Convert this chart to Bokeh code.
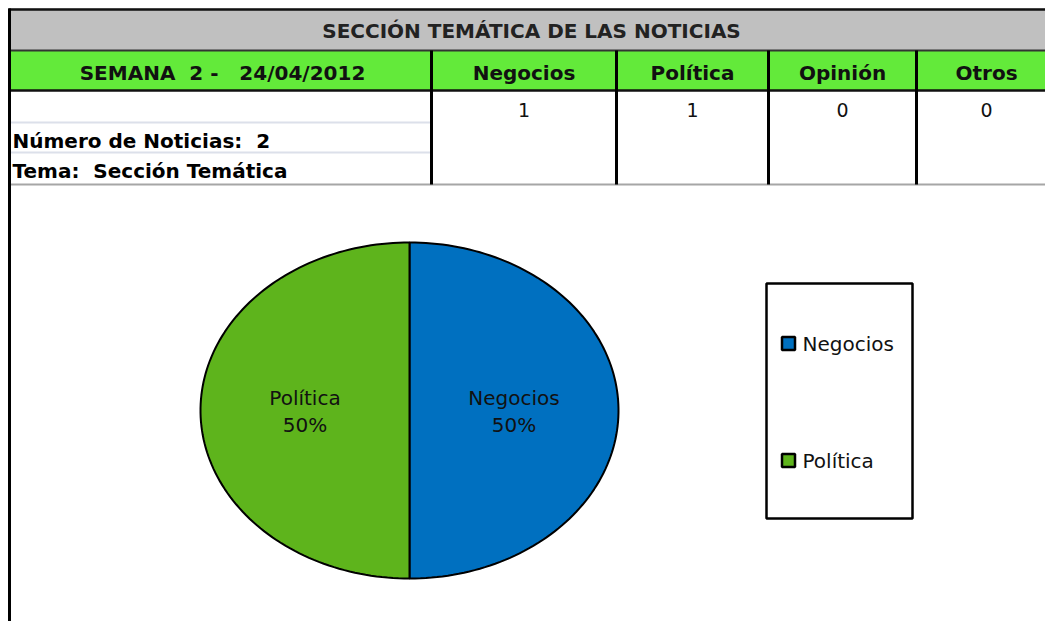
import numpy as np
from bokeh.plotting import figure
from bokeh.models import Range1d
from bokeh.core.properties import value
from bokeh.embed import file_html
from bokeh.resources import INLINE

# ---- data ----
title = "SECCIÓN TEMÁTICA DE LAS NOTICIAS"
week_label = "SEMANA\u00a0 2 -\u00a0\u00a0 24/04/2012"
categories = ["Negocios", "Política", "Opinión", "Otros"]
counts = [1, 1, 0, 0]
total_label = "Número de Noticias:\u00a0 2"
topic_label = "Tema:\u00a0 Sección Temática"
slice_colors = {"Negocios": "#0070C0", "Política": "#5EB41C", "Opinión": "#C0504D", "Otros": "#8064A2"}

FONT = "DejaVu Sans"

p = figure(width=1045, height=621, output_backend="svg", toolbar_location=None,
           x_range=Range1d(0, 1045), y_range=Range1d(621, 0), min_border=0)
p.axis.visible = False
p.grid.visible = False
p.outline_line_color = None
p.background_fill_color = "white"
p.border_fill_color = "white"

# ---- table ----
col_edges = [431, 616, 768, 916, 1045]
p.quad(left=8, right=1045, top=8, bottom=50, fill_color="#C0C0C0", line_color=None)
p.quad(left=8, right=1045, top=50, bottom=90, fill_color="#63EA3A", line_color=None)
# light row lines in first column
p.segment(x0=[8, 8], y0=[122, 152], x1=[431, 431], y1=[122, 152], line_color="#DCE0EA", line_width=2)
# horizontal borders
p.segment(x0=[8, 8, 8], y0=[9, 50, 90], x1=[1045, 1045, 1045], y1=[9, 50, 90],
          line_color=["#111111", "#333333", "#111111"], line_width=[2.5, 2, 2.5])
p.segment(x0=8, y0=184, x1=1045, y1=184, line_color="#A6A6A6", line_width=2)
# vertical dividers
p.segment(x0=col_edges[:-1], y0=[50] * 4, x1=col_edges[:-1], y1=[184] * 4, line_color="black", line_width=3)
# left border
p.segment(x0=9, y0=8, x1=9, y1=621, line_color="black", line_width=3)

p.text(x=[531], y=[30], text=[title], text_align="center", text_baseline="middle",
       text_font=value(FONT), text_font_style="bold", text_font_size="20px", text_color="#222222")
p.text(x=[222], y=[72], text=[week_label], text_align="center", text_baseline="middle",
       text_font=value(FONT), text_font_style="bold", text_font_size="20px", text_color="#111111")
col_centers = [(col_edges[i] + col_edges[i + 1]) / 2 for i in range(4)]
col_centers[-1] = 986
p.text(x=col_centers, y=[72] * 4, text=categories, text_align="center", text_baseline="middle",
       text_font=value(FONT), text_font_style="bold", text_font_size="20px", text_color="#111111")
p.text(x=col_centers, y=[109] * 4, text=[str(c) for c in counts], text_align="center", text_baseline="middle",
       text_font=value(FONT), text_font_size="19px", text_color="#111111")
p.text(x=[12, 12], y=[140, 170], text=[total_label, topic_label], text_align="left", text_baseline="middle",
       text_font=value(FONT), text_font_style="bold", text_font_size="20px", text_color="black")

# ---- pie ----
cx, cy, rx, ry = 409, 410, 209, 168
vals = np.array(counts, dtype=float)
frac = vals / vals.sum()
ends = np.cumsum(frac) * 2 * np.pi
starts = ends - frac * 2 * np.pi
xs, ys, cols, lx, ly, ltxt = [], [], [], [], [], []
for cat, s, e, f in zip(categories, starts, ends, frac):
    if f <= 0:
        continue
    t = np.linspace(s, e, 120)
    xs.append(list(np.concatenate([[cx], cx + rx * np.sin(t)])))
    ys.append(list(np.concatenate([[cy], cy - ry * np.cos(t)])))
    cols.append(slice_colors[cat])
    m = (s + e) / 2
    lx.append(cx + 0.5 * rx * np.sin(m))
    ly.append(cy - 0.5 * ry * np.cos(m))
    ltxt.append((cat, f"{round(f * 100)}%"))
p.patches(xs, ys, fill_color=cols, line_color="black", line_width=2)
p.text(x=lx, y=[v - 13 for v in ly], text=[t[0] for t in ltxt], text_align="center", text_baseline="middle",
       text_font=value(FONT), text_font_size="20px", text_color="#111111")
p.text(x=lx, y=[v + 14 for v in ly], text=[t[1] for t in ltxt], text_align="center", text_baseline="middle",
       text_font=value(FONT), text_font_size="20px", text_color="#111111")

# ---- legend ----
p.quad(left=766, right=912, top=283, bottom=518, fill_color="white", line_color="black", line_width=2.5)
leg_cats = [c for c, v in zip(categories, counts) if v > 0]
leg_y = [343 + 117 * i for i in range(len(leg_cats))]
p.rect(x=[788] * len(leg_cats), y=leg_y, width=13, height=13, fill_color=[slice_colors[c] for c in leg_cats],
       line_color="black", line_width=2.5)
p.text(x=[802] * len(leg_cats), y=leg_y, text=leg_cats, text_align="left", text_baseline="middle",
       text_font=value(FONT), text_font_size="20px", text_color="#111111")

open("out.html", "w").write(file_html(p, INLINE))
